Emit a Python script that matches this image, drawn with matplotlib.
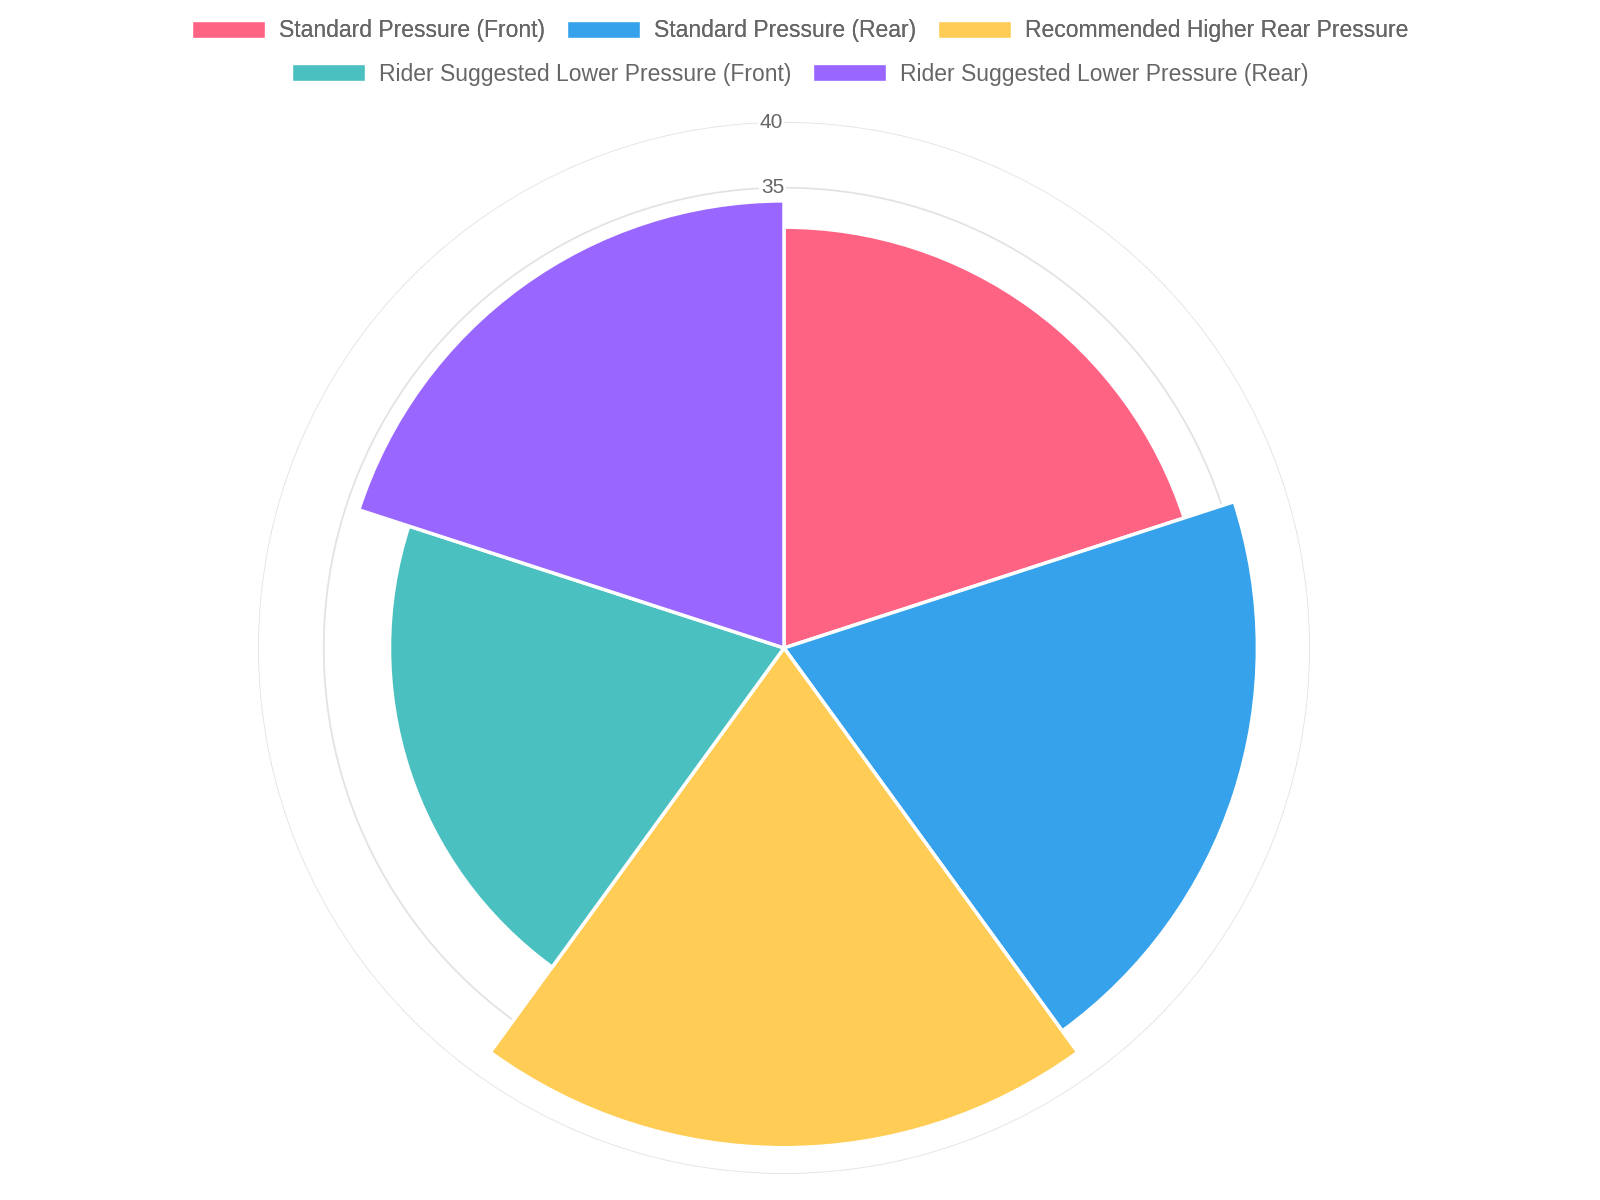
import numpy as np
import matplotlib.pyplot as plt
from matplotlib.patches import Patch

labels = ["Standard Pressure (Front)", "Standard Pressure (Rear)", "Recommended Higher Rear Pressure",
          "Rider Suggested Lower Pressure (Front)", "Rider Suggested Lower Pressure (Rear)"]
values = [32, 36, 38, 30, 34]
colors = ["#FF6384", "#36A2EB", "#FFCD56", "#4BC0C0", "#9966FF"]
ticks = [5, 10, 15, 20, 25, 30, 35, 40]

plt.rcParams['font.family'] = ['Liberation Sans', 'DejaVu Sans']
fig = plt.figure(figsize=(16, 12), dpi=100)
ax = fig.add_axes([0.16125, 0.02167, 0.6575, 0.8767], projection='polar')
ax.set_theta_zero_location('N')
ax.set_theta_direction(-1)
n = len(values)
width = 2 * np.pi / n
theta = np.arange(n) * width
ax.bar(theta, values, width=width, align='edge', color=colors, edgecolor='white', linewidth=2.5, zorder=3)
ax.set_ylim(0, 40)
ax.set_xticks([])
ax.set_yticks([])
ax.grid(False)
ax.spines['polar'].set_visible(False)
t = np.linspace(0, 2 * np.pi, 400)
for r in ticks:
    ax.plot(t, np.full_like(t, r), color='#e3e3e3', lw=1.3, zorder=1)
    ax.text(-0.025, r, str(r), ha='center', va='center', fontsize=15, color='#666666', zorder=2,
            bbox=dict(facecolor='white', edgecolor='none', pad=1))

handles = [Patch(facecolor=c, edgecolor='white') for c in colors]
kw = dict(frameon=False, fontsize=16.5, labelcolor='#666666', handlelength=3.2, handleheight=0.75,
          columnspacing=0.95, handletextpad=0.6, loc='center')
leg1 = fig.legend(handles[:3], labels[:3], ncol=3, bbox_to_anchor=(0.5, 1 - 31 / 1200), **kw)
fig.add_artist(leg1)
fig.legend(handles[3:], labels[3:], ncol=2, bbox_to_anchor=(0.5, 1 - 74 / 1200), **kw)
fig.savefig("out.png", dpi=100)
